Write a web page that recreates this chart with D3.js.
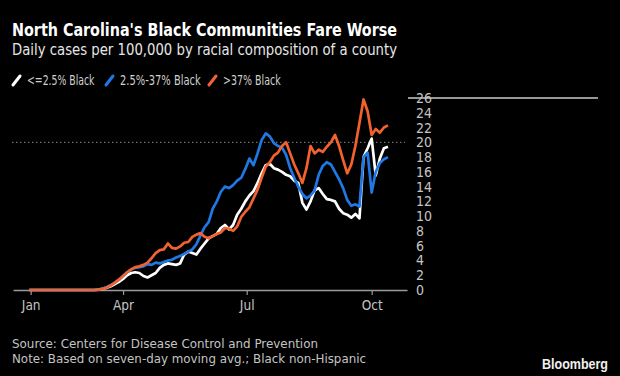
<!DOCTYPE html>
<html>
<head>
<meta charset="utf-8">
<script src="https://cdn.jsdelivr.net/npm/d3@7"></script>
<style>
body { margin: 0; background: #000; }
svg { display: block; }
text { font-family: "Liberation Sans Narrow", "DejaVu Sans Condensed", "Roboto", sans-serif; }
</style>
</head>
<body>
<svg width="620" height="376"></svg>
<script>
// sample dates, every 3 days from Jan 23 to Oct 13 2020
var dates = d3.timeDay.range(new Date(2020, 0, 23), new Date(2020, 9, 14), 3);

var zeros = [0,0,0,0,0,0,0,0,0,0,0,0,0,0,0,0,0];

var lowBlack = zeros.concat([
    0.05, 0.15, 0.3, 0.5, 0.8, 1.1, 1.5, 2.0, 2.3, 2.4,
    2.3, 1.9, 1.7, 2.0, 2.3, 3.0, 3.4, 3.6, 3.5, 3.4,
    3.6, 4.8, 5.2, 5.0, 4.8, 5.6, 6.3, 7.0, 7.3, 7.6,
    8.4, 8.8, 8.2, 8.8, 10.2, 11.0, 12.0, 12.8, 13.4, 14.5,
    15.8, 16.9, 17.1, 16.5, 16.3, 16.0, 15.6, 15.4, 14.8, 14.5,
    11.8, 10.9, 12.0, 13.5, 13.8, 13.0, 12.3, 12.2, 12.0, 11.0,
    10.4, 10.2, 9.8, 10.3, 9.7, 18.0, 19.2, 20.5, 15.5, 17.8,
    19.2, 19.4]);

var midBlack = zeros.concat([
    0.05, 0.2, 0.4, 0.7, 1.0, 1.4, 1.9, 2.4, 2.8, 3.0,
    3.1, 3.2, 3.5, 3.4, 3.7, 3.6, 3.8, 4.0, 4.1, 4.4,
    4.6, 4.9, 5.2, 5.5, 6.2, 7.4, 8.5, 9.2, 11.0, 12.0,
    13.3, 14.0, 13.8, 14.2, 14.8, 15.2, 16.4, 17.8, 16.9, 18.5,
    20.3, 21.2, 20.8, 19.9, 19.5, 19.3, 18.3, 16.5, 15.2, 14.0,
    13.0, 12.4, 12.8, 13.5, 15.6, 16.8, 17.3, 17.0, 16.0, 15.0,
    13.8, 12.2, 11.4, 11.6, 11.3, 18.0, 18.6, 13.2, 16.0, 17.2,
    17.7, 18.0]);

var highBlack = zeros.concat([
    0.05, 0.15, 0.35, 0.6, 1.0, 1.4, 1.9, 2.4, 2.8, 3.1,
    3.2, 3.4, 3.7, 4.3, 5.0, 5.4, 5.5, 6.3, 5.7, 5.6,
    5.9, 6.4, 6.5, 7.2, 7.5, 7.7, 7.2, 7.0, 7.3, 7.6,
    7.8, 8.4, 8.3, 8.0, 8.6, 9.9, 10.6, 11.2, 12.4, 13.6,
    15.2, 16.7, 17.3, 18.2, 18.6, 19.5, 20.0, 18.5, 17.0, 15.8,
    14.5, 16.5, 19.5, 18.5, 19.0, 18.7, 19.4, 20.0, 21.0, 19.5,
    17.6, 15.8, 17.0, 19.5, 22.6, 25.8, 24.2, 21.0, 21.8, 21.3,
    22.0, 22.3]);

var seriesNames = ["<=2.5% Black", "2.5%-37% Black", ">37% Black"];
var seriesColors = ["#ffffff", "#1f78e4", "#f2622e"];
var seriesValues = [lowBlack, midBlack, highBlack];

var xTicks = [new Date(2020, 0, 24), new Date(2020, 3, 1), new Date(2020, 6, 1), new Date(2020, 9, 1)];
var yTicks = d3.range(0, 27, 2);

var svg = d3.select("svg");

var x = d3.scaleTime().domain([new Date(2020, 0, 11), new Date(2020, 9, 27)]).range([13, 407]);
var y = d3.scaleLinear().domain([0, 26]).range([290, 98]);

// titles
svg.append("text").attr("x", 12).attr("y", 36).attr("fill", "#fff")
    .style("font-size", "18.5px").style("font-weight", "bold")
    .attr("textLength", 385).attr("lengthAdjust", "spacingAndGlyphs")
    .text("North Carolina's Black Communities Fare Worse");
svg.append("text").attr("x", 12).attr("y", 55).attr("fill", "#e6e6e6")
    .style("font-size", "16px")
    .attr("textLength", 385).attr("lengthAdjust", "spacingAndGlyphs")
    .text("Daily cases per 100,000 by racial composition of a county");

// legend
var legendX = [12, 105, 208];
var legendW = [67.5, 80.7, 57.7];
var legend = svg.selectAll("g.legend").data(seriesNames).enter().append("g")
    .attr("class", "legend")
    .attr("transform", function (d, i) { return "translate(" + legendX[i] + ",0)"; });
legend.append("line").attr("x1", 1).attr("y1", 85).attr("x2", 8).attr("y2", 76)
    .attr("stroke", function (d, i) { return seriesColors[i]; })
    .attr("stroke-width", 3).attr("stroke-linecap", "round");
legend.append("text").attr("x", 15).attr("y", 85).attr("fill", "#d0d0d0")
    .style("font-size", "14px")
    .attr("textLength", function (d, i) { return legendW[i]; })
    .attr("lengthAdjust", "spacingAndGlyphs")
    .text(function (d) { return d; });

// top rule beside the y labels
svg.append("line").attr("x1", 408).attr("x2", 598).attr("y1", y(26)).attr("y2", y(26))
    .attr("stroke", "#c8c8c8").attr("stroke-width", 1.5);

// dotted reference at 20
svg.append("line").attr("x1", 12).attr("x2", 405).attr("y1", y(20)).attr("y2", y(20))
    .attr("stroke", "#8a8a8a").attr("stroke-width", 1).attr("stroke-dasharray", "1.5,2.5");

// x axis
var xAxis = svg.append("g").attr("transform", "translate(0,290)")
    .call(d3.axisBottom(x).tickValues(xTicks).tickFormat(d3.timeFormat("%b")).tickSize(5).tickSizeOuter(0).tickPadding(5));
xAxis.select(".domain").attr("stroke", "#9a9a9a").attr("stroke-width", 1.5);
xAxis.selectAll(".tick line").attr("stroke", "#9a9a9a").attr("stroke-width", 1.2);
xAxis.selectAll(".tick text").attr("fill", "#c4c4c4").style("font-size", "13.5px")
    .style("font-family", "'Liberation Sans Narrow', 'DejaVu Sans Condensed', Roboto, sans-serif");

// y axis labels
var yAxis = svg.append("g").attr("transform", "translate(408,0)")
    .call(d3.axisRight(y).tickValues(yTicks).tickSize(0).tickPadding(8));
yAxis.select(".domain").remove();
yAxis.selectAll(".tick text").attr("fill", "#c4c4c4").style("font-size", "14px")
    .style("font-family", "'Liberation Sans Narrow', 'DejaVu Sans Condensed', Roboto, sans-serif");

// lines
var line = d3.line()
    .x(function (d, i) { return x(dates[i]); })
    .y(function (d) { return y(d); });

svg.selectAll("path.series").data(seriesValues).enter().append("path")
    .attr("class", "series")
    .attr("fill", "none")
    .attr("stroke", function (d, i) { return seriesColors[i]; })
    .attr("stroke-width", 2.7)
    .attr("stroke-linejoin", "round")
    .attr("d", line);

// footer
svg.append("text").attr("x", 12).attr("y", 348).attr("fill", "#c4c4c4")
    .style("font-size", "13px")
    .attr("textLength", 306).attr("lengthAdjust", "spacingAndGlyphs")
    .text("Source: Centers for Disease Control and Prevention");
svg.append("text").attr("x", 12).attr("y", 363).attr("fill", "#c4c4c4")
    .style("font-size", "13px")
    .attr("textLength", 354).attr("lengthAdjust", "spacingAndGlyphs")
    .text("Note: Based on seven-day moving avg.; Black non-Hispanic");
svg.append("text").attr("x", 608).attr("y", 369).attr("fill", "#f0f0f0")
    .attr("text-anchor", "end")
    .style("font-size", "14px").style("font-weight", "bold")
    .style("font-family", "'Liberation Sans', Arial, sans-serif")
    .attr("textLength", 66).attr("lengthAdjust", "spacingAndGlyphs")
    .text("Bloomberg");
</script>
</body>
</html>
